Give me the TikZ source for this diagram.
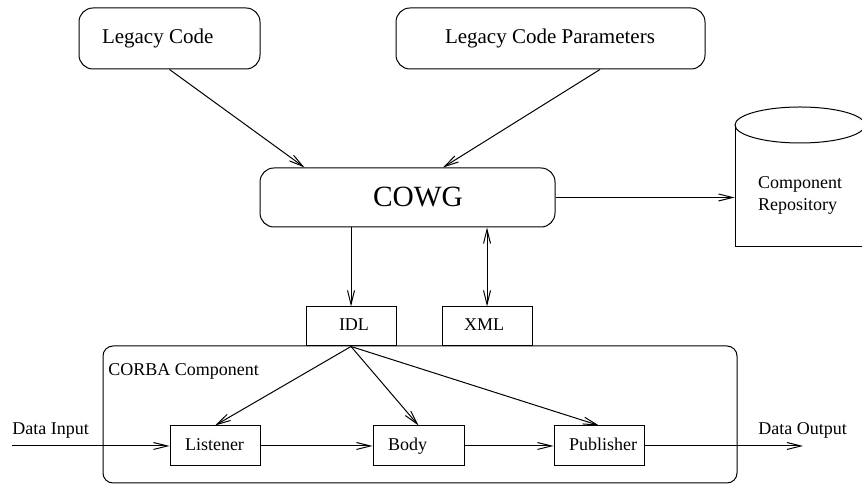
\documentclass[tikz,border=0pt]{standalone}
\usepackage{fontspec}
\setmainfont{Liberation Serif}
\usetikzlibrary{arrows.meta}
\newcommand\lbox[3]{\makebox[#1][l]{\hspace{#2}#3}}
\begin{document}
\begin{tikzpicture}[x=0.5pt,y=-0.5pt,
  every node/.style={font=\fontsize{9}{11}\selectfont},
  base/.style={draw, line width=0.5pt, inner xsep=0pt, inner ysep=0pt},
  rbox/.style={base, rounded corners=7pt},
  small/.style={text height=6.3pt, text depth=1.9pt},
  sbox/.style={base, small, minimum height=20pt},
  arr/.style={line width=0.5pt, -{Straight Barb[length=7pt,width=3.5pt]}},
  darr/.style={line width=0.5pt, {Straight Barb[length=7pt,width=3.5pt]}-{Straight Barb[length=7pt,width=3.5pt]}},
  plain/.style={line width=0.5pt}]
\useasboundingbox (0,0) rectangle (862,485);

% top boxes
\node[rbox, minimum height=30.5pt, text height=7.3pt, text depth=2.3pt, font=\fontsize{10.5}{12}\selectfont] (lc) at (169.5,38.5) {\lbox{90.5pt}{11.5pt}{Legacy Code}};
\node[rbox, minimum height=30.5pt, text height=7.3pt, text depth=2.3pt, font=\fontsize{10.5}{12}\selectfont] (lcp) at (550.5,38.5) {\lbox{154.5pt}{24.5pt}{Legacy Code Parameters}};

% COWG
\node[rbox, minimum height=29.5pt, text height=9.6pt, text depth=0.4pt, font=\fontsize{14.7}{16}\selectfont] (cowg) at (407.5,197.5) {\lbox{147.5pt}{56.5pt}{COWG}};

% repository (cylinder with flat bottom)
\node[inner xsep=11.5pt, inner ysep=0pt, minimum height=53pt, text width=42pt, align=left] (repo) at (800,195) {Component\\Repository};
\draw[plain] (735,125) -- (735,247) -- (865,247) -- (865,125);
\draw[plain] (800,125) ellipse [x radius=32.5pt, y radius=9pt];

% CORBA component container
\node[base, rounded corners=5pt, minimum width=317pt, minimum height=68.5pt] (corba) at (420,414.5) {};
\node[anchor=base west, inner sep=0pt] (corbalabel) at (108,376) {CORBA Component};

% IDL / XML
\node[base, small, minimum height=19.5pt, fill=white] (idl) at (351,326.5) {\lbox{45pt}{16.5pt}{IDL}};
\node[base, small, minimum height=19.5pt, fill=white] (xml) at (487,326.5) {\lbox{45pt}{11pt}{XML}};

% inner boxes
\node[sbox] (listener) at (215,446) {\lbox{45pt}{7.5pt}{Listener}};
\node[sbox] (body) at (418.5,446) {\lbox{45.5pt}{7.5pt}{Body}};
\node[sbox] (publisher) at (599,446) {\lbox{45pt}{7.5pt}{Publisher}};

% data in/out
\coordinate (din) at (12,446);
\coordinate (dout) at (803,446);
\node[anchor=base west, inner sep=0pt] (dinlabel) at (12,435) {Data Input};
\node[anchor=base west, inner sep=0pt] (doutlabel) at (758,435) {Data Output};

% connectors
\draw[arr] (lc.south) -- ([xshift=22.5pt]cowg.north west);
\draw[arr] ([xshift=24.75pt]lcp.south) -- ([xshift=17.75pt]cowg.north);
\draw[arr] (cowg.east) -- (cowg.east -| repo.west);
\draw[arr] (idl.north |- cowg.south) -- (idl.north);
\draw[darr] (xml.north |- cowg.south) -- (xml.north);
\draw[arr] (idl.south) -- (listener.north);
\draw[arr] (idl.south) -- (body.north);
\draw[arr] (idl.south) -- (publisher.north);
\draw[arr] (din) -- (listener.west);
\draw[arr] (listener.east) -- (body.west);
\draw[arr] (body.east) -- (publisher.west);
\draw[arr] (publisher.east) -- (dout);
\end{tikzpicture}
\end{document}
